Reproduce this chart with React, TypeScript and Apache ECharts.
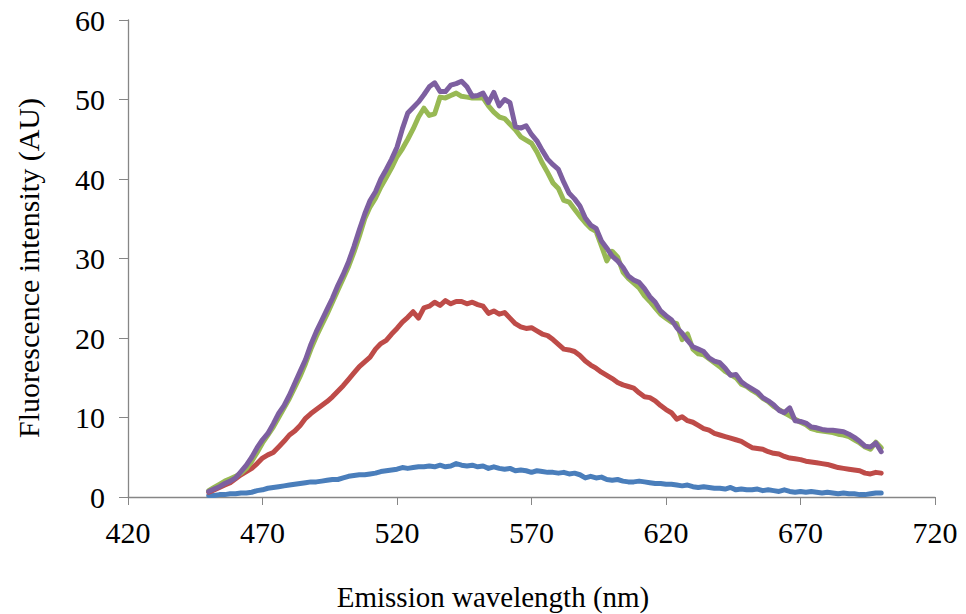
import React, { useEffect, useRef } from "react";
import * as echarts from "echarts";

const START_NM = 450;
const STEP_NM = 2;

const blueValues = [
  0.2, 0.2, 0.3, 0.3, 0.4, 0.4, 0.5, 0.5, 0.6, 0.8,
  0.9, 1.1, 1.2, 1.3, 1.4, 1.5, 1.6, 1.7, 1.8, 1.9,
  1.9, 2.0, 2.1, 2.2, 2.2, 2.4, 2.6, 2.7, 2.8, 2.8,
  2.9, 3.0, 3.2, 3.3, 3.4, 3.5, 3.7, 3.6, 3.7, 3.8,
  3.8, 3.9, 3.8, 4.0, 3.8, 3.9, 4.2, 4.0, 3.9, 4.0,
  3.8, 3.9, 3.6, 3.8, 3.6, 3.5, 3.6, 3.3, 3.4, 3.3,
  3.1, 3.3, 3.2, 3.1, 3.1, 3.0, 3.1, 2.9, 3.0, 2.8,
  2.4, 2.6, 2.4, 2.5, 2.2, 2.1, 2.2, 2.0, 1.9, 1.9,
  2.0, 1.9, 1.8, 1.7, 1.7, 1.6, 1.6, 1.5, 1.4, 1.5,
  1.3, 1.2, 1.3, 1.2, 1.1, 1.1, 1.0, 1.2, 0.9, 1.0,
  0.9, 0.9, 1.0, 0.8, 0.9, 0.8, 0.7, 0.9, 0.7, 0.6,
  0.7, 0.6, 0.7, 0.6, 0.5, 0.6, 0.5, 0.4, 0.5, 0.4,
  0.4, 0.3, 0.3, 0.4, 0.5, 0.5,
];

const redValues = [
  0.6, 0.9, 1.2, 1.5, 1.8, 2.3, 2.8, 3.2, 3.6, 4.2,
  4.9, 5.3, 5.6, 6.3, 7.0, 7.8, 8.3, 9.0, 9.9, 10.5,
  11.0, 11.5, 12.0, 12.6, 13.3, 14.0, 14.8, 15.6, 16.4, 17.0,
  17.6, 18.6, 19.3, 19.7, 20.5, 21.2, 22.0, 22.6, 23.3, 22.5,
  23.8, 24.0, 24.5, 24.1, 24.7, 24.3, 24.6, 24.6, 24.3, 24.5,
  24.2, 24.0, 23.1, 23.4, 23.0, 23.2, 22.5, 21.8, 21.4, 21.2,
  21.3, 20.9, 20.5, 20.3, 19.8, 19.2, 18.6, 18.5, 18.3, 17.8,
  17.1, 16.6, 16.2, 15.7, 15.3, 14.9, 14.4, 14.1, 13.9, 13.7,
  13.1, 12.6, 12.5, 12.1, 11.5, 11.0, 10.6, 9.8, 10.1, 9.6,
  9.4, 9.0, 8.6, 8.4, 8.0, 7.8, 7.6, 7.4, 7.2, 7.0,
  6.6, 6.2, 6.1, 6.0, 5.7, 5.5, 5.4, 5.1, 4.9, 4.8,
  4.7, 4.5, 4.4, 4.3, 4.2, 4.1, 3.9, 3.7, 3.6, 3.5,
  3.4, 3.3, 3.0, 2.9, 3.1, 3.0,
];

const greenValues = [
  0.8, 1.2, 1.6, 2.0, 2.3, 2.6, 3.0, 3.6, 4.5, 5.6,
  6.8, 7.8, 8.8, 10.0, 11.2, 12.4, 13.8, 15.2, 16.8, 18.6,
  20.2, 21.6, 23.0, 24.5, 26.0, 27.5, 29.0, 30.8, 32.8, 35.0,
  36.5, 37.6, 39.0, 40.2, 41.4, 42.8, 43.8, 45.0, 46.3, 47.8,
  48.9, 48.0, 48.2, 50.3, 50.2, 50.5, 50.8, 50.4, 50.3, 50.2,
  50.2, 50.2, 49.2, 48.4, 47.8, 47.6, 46.9, 46.2, 45.3, 44.9,
  44.5, 43.4, 42.0, 40.8, 39.5, 38.8, 37.3, 37.1, 36.2, 35.3,
  34.5, 33.8, 33.4, 31.6, 29.7, 30.9, 30.2, 28.3, 27.5, 26.9,
  26.3, 25.3, 24.6, 23.8, 23.0, 22.5, 22.0, 21.8, 19.8, 20.5,
  18.6, 18.0, 17.9, 17.4, 16.9, 16.4, 15.8, 15.4, 15.0, 14.2,
  13.9, 13.4, 13.0, 12.4, 12.0, 11.4, 11.0, 10.6, 10.2, 9.8,
  9.4, 9.1, 8.6, 8.4, 8.3, 8.2, 8.1, 7.9, 7.8, 7.6,
  7.2, 6.8, 6.3, 6.0, 6.9, 6.2,
];

const purpleValues = [
  0.7, 1.0, 1.3, 1.7, 2.0, 2.4, 3.2, 4.0, 5.0, 6.2,
  7.2, 8.0, 9.2, 10.5, 11.5, 12.8, 14.3, 15.8, 17.3, 19.2,
  20.8, 22.2, 23.6, 25.0, 26.6, 28.0, 29.6, 31.5, 33.6, 35.6,
  37.3, 38.4, 40.0, 41.2, 42.5, 44.0, 46.3, 48.3, 49.0, 49.7,
  50.6, 51.6, 52.1, 51.0, 51.0, 51.8, 52.0, 52.3, 51.6, 50.4,
  50.5, 50.8, 49.6, 50.9, 49.2, 50.0, 49.6, 46.6, 46.4, 46.7,
  45.6, 44.8, 43.6, 42.5, 41.8, 41.2, 39.6, 38.2, 37.5, 36.6,
  35.1, 34.2, 33.8, 32.2, 31.3, 30.3, 29.7, 28.9, 27.8, 27.3,
  27.0, 26.2, 25.2, 24.5, 23.4, 22.8, 22.3, 21.3, 20.6, 19.7,
  18.9, 18.6, 18.3, 17.5, 17.1, 16.9, 16.2, 15.3, 15.4, 14.5,
  14.0, 13.6, 13.2, 12.5, 12.1, 11.6, 10.9, 10.6, 11.2, 9.6,
  9.5, 9.3, 8.8, 8.7, 8.5, 8.4, 8.4, 8.3, 8.2, 7.9,
  7.5, 7.0, 6.4, 6.3, 6.8, 5.7,
];

const seriesNames = ["Series1", "Series2", "Series3", "Series4"];
const seriesColors = ["#4a7ebb", "#be4b48", "#98b954", "#7d5fa0"];
const seriesValues = [blueValues, redValues, greenValues, purpleValues];

const X_TITLE = "Emission wavelength (nm)";
const Y_TITLE = "Fluorescence intensity (AU)";

const toPairs = (vals: number[]) =>
  vals.map((v, i) => [START_NM + i * STEP_NM, v]);

export default function App() {
  const ref = useRef<HTMLDivElement>(null);
  useEffect(() => {
    if (!ref.current) return;
    const chart = echarts.init(ref.current, undefined, { renderer: "svg" });
    const font = "'Liberation Serif', 'Times New Roman', serif";
    const axisLine = { show: true, lineStyle: { color: "#868686", width: 1.3 } };
    chart.setOption({
      animation: false,
      backgroundColor: "#ffffff",
      grid: { left: 128, right: 31, top: 20, bottom: 117, containLabel: false },
      xAxis: {
        type: "value",
        min: 420,
        max: 720,
        interval: 50,
        axisLine,
        axisTick: { show: true, length: 8, inside: false, lineStyle: { color: "#868686" } },
        splitLine: { show: false },
        axisLabel: {
          color: "#000",
          fontFamily: font,
          fontSize: 30,
          margin: 20,
        },
      },
      yAxis: {
        type: "value",
        min: 0,
        max: 60,
        interval: 10,
        axisLine,
        axisTick: { show: true, length: 9, inside: false, lineStyle: { color: "#868686" } },
        splitLine: { show: false },
        axisLabel: { color: "#000", fontFamily: font, fontSize: 30, margin: 23 },
      },
      graphic: [
        {
          type: "text",
          x: 493,
          y: 597,
          style: {
            text: X_TITLE,
            fill: "#000",
            font: `29px ${font}`,
            textAlign: "center",
            textVerticalAlign: "middle",
          },
        },
        {
          type: "text",
          x: 28,
          y: 268,
          rotation: Math.PI / 2,
          style: {
            text: Y_TITLE,
            fill: "#000",
            font: `30px ${font}`,
            textAlign: "center",
            textVerticalAlign: "middle",
          },
        },
      ],
      series: seriesValues.map((vals, i) => ({
        name: seriesNames[i],
        type: "line",
        data: toPairs(vals),
        showSymbol: false,
        symbol: "none",
        lineStyle: { color: seriesColors[i], width: 5, join: "round", cap: "round" },
        z: 2 + i,
      })),
    });
    return () => chart.dispose();
  }, []);
  return (
    <div
      ref={ref}
      style={{ position: "fixed", left: 0, top: 0, width: 966, height: 614 }}
    />
  );
}
